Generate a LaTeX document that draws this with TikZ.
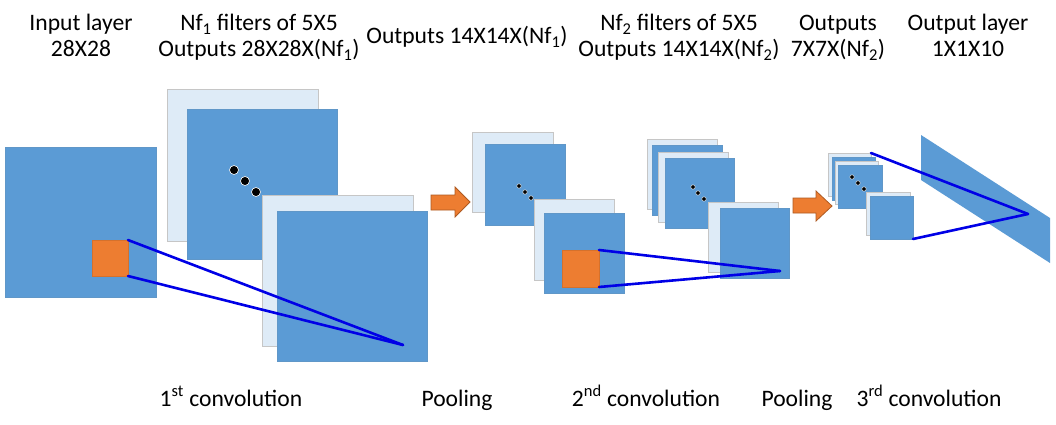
\documentclass[tikz,border=0pt]{standalone}
\usepackage{fontspec}
\setmainfont{Carlito}
\definecolor{sqblue}{HTML}{5B9BD5}
\definecolor{sqlight}{HTML}{DEEBF7}
\definecolor{sqorange}{HTML}{ED7D31}
\definecolor{arrowedge}{HTML}{AE5A21}
\definecolor{lineblue}{HTML}{0000E6}
\newcommand\mysq[6]{\node[#1, anchor=north west, minimum width={(#5)-(#3)}, minimum height={(#6)-(#4)}] (#2) at (#3,#4) {};}
\tikzset{
  base sq/.style={rectangle, inner sep=0pt, outer sep=0pt},
  bluesq/.style={base sq, fill=sqblue, draw=sqblue!85!gray, line width=0.6pt},
  lightsq/.style={base sq, fill=sqlight, draw=gray!45, line width=0.8pt},
  orangesq/.style={base sq, fill=sqorange, draw=sqorange!90!black, line width=0.4pt},
  conn/.style={draw=lineblue, line width=2.6pt, line cap=round},
  bigdot/.style={circle, fill=black, draw=white, line width=0.6pt, inner sep=0pt, minimum size=9pt},
  smalldot/.style={circle, fill=black, draw=white, line width=0.4pt, inner sep=0pt, minimum size=4.5pt},
  label/.style={font=\fontsize{23.6}{26}\selectfont, align=center, inner sep=0pt, anchor=base},
  fatarrow/.style={fill=sqorange, draw=arrowedge, line width=0.8pt, line join=miter},
}
\begin{document}
\begin{tikzpicture}[x=1pt,y=-1pt]
\useasboundingbox (0,0) rectangle (1056,425);
\fill[white] (0,0) rectangle (1056,425);

% input layer
\mysq{bluesq}{in}{5}{147}{156}{297}
\mysq{orangesq}{o1}{92}{240}{128}{276}

% first convolution output
\mysq{lightsq}{c1a}{167}{89}{318}{241}
\mysq{bluesq}{c1b}{187}{109}{337}{259}
\node[bigdot] (d1a) at (234,170) {};
\node[bigdot] (d1b) at (245,181) {};
\node[bigdot] (d1c) at (256,192) {};
\mysq{lightsq}{c1c}{262}{195}{413}{346}
\mysq{bluesq}{c1d}{277}{211}{427}{361}
\coordinate (p1) at (403,345);
\draw[conn] (o1.north east) -- (p1);
\draw[conn] (o1.south east) -- (p1);

% pooling arrow 1
\draw[fatarrow] (431,195) -- (455,195) -- (455,187) -- (470,202) -- (455,217) -- (455,210) -- (431,210) -- cycle;

% pooled 14x14
\mysq{lightsq}{p1a}{472}{132}{553}{212}
\mysq{bluesq}{p1b}{485}{144}{565}{225}
\node[smalldot] (d2a) at (519,186) {};
\node[smalldot] (d2b) at (525,192) {};
\node[smalldot] (d2c) at (531,198) {};
\mysq{lightsq}{p1c}{534}{199}{614}{280}
\mysq{bluesq}{p1d}{544}{213}{624}{293}
\mysq{orangesq}{o2}{562}{250}{599}{287}

% second convolution output
\mysq{lightsq}{c2a}{647}{139}{717}{209}
\mysq{bluesq}{c2b}{652}{145}{722}{215}
\mysq{lightsq}{c2c}{658}{152}{728}{222}
\mysq{bluesq}{c2d}{665}{158}{734}{228}
\node[smalldot] (d3a) at (693,187) {};
\node[smalldot] (d3b) at (698,193) {};
\node[smalldot] (d3c) at (704,199) {};
\mysq{lightsq}{c2e}{708}{202}{778}{272}
\mysq{bluesq}{c2f}{720}{208}{789}{278}
\coordinate (p2) at (780,271);
\draw[conn] (o2.north east) -- (p2);
\draw[conn] (o2.south east) -- (p2);

% pooling arrow 2
\draw[fatarrow] (793,198) -- (816,198) -- (816,191) -- (832,206) -- (816,221) -- (816,213) -- (793,213) -- cycle;

% pooled 7x7
\mysq{lightsq}{p2a}{828}{153}{871}{196}
\mysq{bluesq}{p2b}{832}{157}{875}{200}
\mysq{lightsq}{p2c}{835}{161}{878}{204}
\mysq{bluesq}{p2d}{838}{165}{882}{208}
\node[smalldot] (d4a) at (852,177) {};
\node[smalldot] (d4b) at (858,183) {};
\node[smalldot] (d4c) at (864,189) {};
\mysq{lightsq}{p2e}{866}{192}{910}{235}
\mysq{bluesq}{p2f}{870}{196}{913}{239}

% output layer
\fill[sqblue] (921,135) -- (1050,218) -- (1050,263) -- (921,180) -- cycle;
\coordinate (p3) at (1028,214);
\draw[conn] (p2a.north east) -- (p3);
\draw[conn] (p2f.south east) -- (p3);

% top labels (base = baseline of last line)
\node[label] (t1) at (81,57) {Input layer\\28X28};
\node[label] (t2) at (259,57) {Nf\textsubscript{1} filters of 5X5\\Outputs 28X28X(Nf\textsubscript{1})};
\node[label] (t3) at (467,44) {Outputs 14X14X(Nf\textsubscript{1})};
\node[label] (t4) at (679,57) {Nf\textsubscript{2} filters of 5X5\\Outputs 14X14X(Nf\textsubscript{2})};
\node[label] (t5) at (838,57) {Outputs\\7X7X(Nf\textsubscript{2})};
\node[label] (t6) at (968,57) {Output layer\\1X1X10};

% bottom labels
\node[label] (b1) at (231,406) {1\textsuperscript{st} convolution};
\node[label] (b2) at (457,406) {Pooling};
\node[label] (b3) at (646,406) {2\textsuperscript{nd} convolution};
\node[label] (b4) at (797,406) {Pooling};
\node[label] (b5) at (929,406) {3\textsuperscript{rd} convolution};
\end{tikzpicture}
\end{document}
